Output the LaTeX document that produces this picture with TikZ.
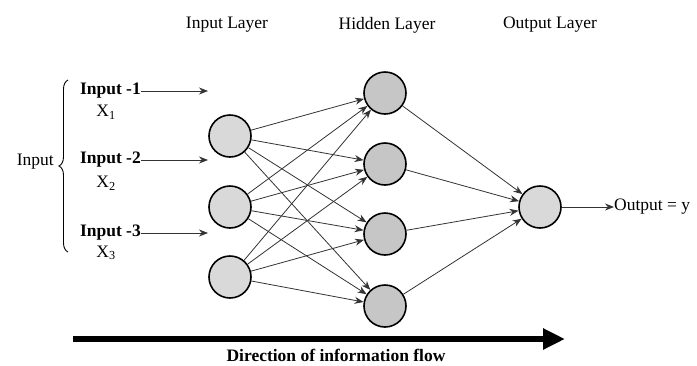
\documentclass[tikz,border=0pt]{standalone}
\usepackage{fontspec}
\setmainfont{Liberation Serif}
\usetikzlibrary{arrows.meta,decorations.pathreplacing}
\begin{document}
\begin{tikzpicture}[x=1pt,y=-1pt,
  neuron/.style={circle,draw=black,line width=1.6pt,minimum size=42pt,inner sep=0pt},
  inneuron/.style={neuron,fill=gray!30},
  hidneuron/.style={neuron,fill=gray!45},
  conn/.style={draw=black!80,line width=0.8pt,-{Stealth[length=9pt,width=7pt]}},
  label/.style={font=\fontsize{17.5}{20}\selectfont,inner sep=0pt},
  blabel/.style={font=\fontsize{17.5}{20}\selectfont\bfseries,inner sep=0pt}]
\useasboundingbox (0,0) rectangle (697,365);
% headers
\node[label] (hin) at (227,25) {Input Layer};
\node[label] (hhid) at (387,25) {Hidden Layer};
\node[label] (hout) at (550,25) {Output Layer};
% neurons
\node[inneuron] (i1) at (230,136) {};
\node[inneuron] (i2) at (230,207) {};
\node[inneuron] (i3) at (230,277) {};
\node[hidneuron] (h1) at (385,93) {};
\node[hidneuron] (h2) at (385,164) {};
\node[hidneuron] (h3) at (385,234) {};
\node[hidneuron] (h4) at (385,306) {};
\node[inneuron] (o) at (540,207) {};
% connections
\foreach \i in {1,2,3}{\foreach \h in {1,2,3,4}{\path[conn] (i\i) -- (h\h);}}
\foreach \h in {1,2,3,4}{\path[conn] (h\h) -- (o);}
% inputs
\node[blabel,anchor=east] (in1) at (141,91) {Input -1};
\node[blabel,anchor=east] (in2) at (141,160) {Input -2};
\node[blabel,anchor=east] (in3) at (141,233) {Input -3};
\node[label] (x1) at (106,112) {X\textsubscript{1}};
\node[label] (x2) at (106,183) {X\textsubscript{2}};
\node[label] (x3) at (106,253) {X\textsubscript{3}};
\coordinate (e1) at (208,91);
\coordinate (e2) at (208,160);
\coordinate (e3) at (208,233);
\foreach \k in {1,2,3}{\path[conn] (in\k.east) -- (e\k);}
% brace
\coordinate (bb) at (68,252);
\coordinate (bt) at (68,80);
\draw[line width=0.9pt,decorate,decoration={brace,amplitude=9pt}] (bb) -- (bt);
\node[label,anchor=east] (inp) at (54,162) {Input};
% output
\node[label,anchor=west] (outl) at (614,207) {Output = y};
\path[conn] (o) -- (outl.west);
% direction arrow
\coordinate (fs) at (73,339);
\coordinate (fe) at (565,339);
\draw[line width=5.5pt,-{Triangle[length=22pt,width=20pt]}] (fs) -- (fe);
\node[blabel] (dir) at (336,355) {Direction of information flow};
\end{tikzpicture}
\end{document}
